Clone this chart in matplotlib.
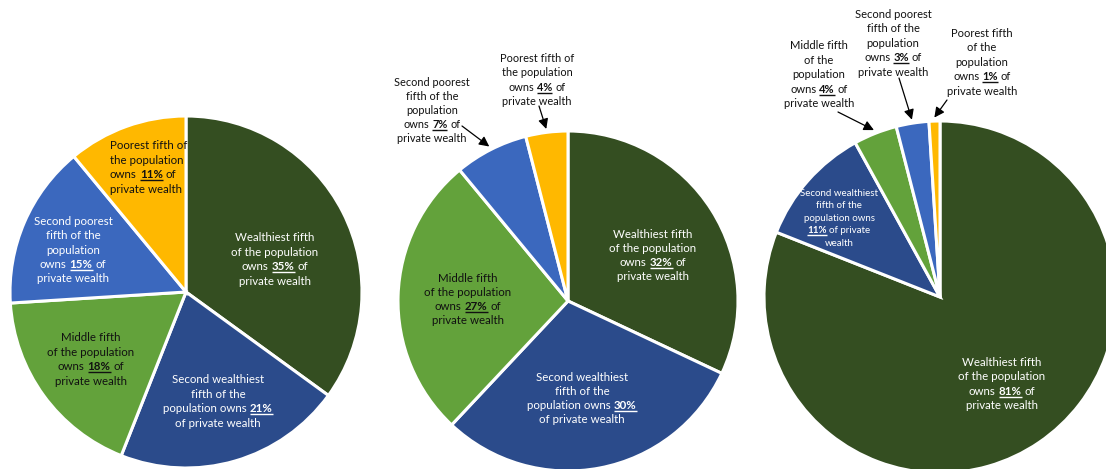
import matplotlib
matplotlib.use("Agg")
import matplotlib.pyplot as plt
import numpy as np

W, H = 1106, 469

groups = ["Wealthiest fifth", "Second wealthiest fifth", "Middle fifth",
          "Second poorest fifth", "Poorest fifth"]
colors = ["#344E21", "#2B4B8B", "#63A23B", "#3B68BE", "#FFB800"]

values_1 = [35, 21, 18, 15, 11]
values_2 = [32, 30, 27, 7, 4]
values_3 = [81, 11, 4, 3, 1]

# label texts: list of lines; "{P}" marks the underlined bold percentage
labels_1 = [
    ["Wealthiest fifth", "of the population", "owns {35%} of", "private wealth"],
    ["Second wealthiest", "fifth of the", "population owns {21%}", "of private wealth"],
    ["Middle fifth", "of the population", "owns {18%} of", "private wealth"],
    ["Second poorest", "fifth of the", "population", "owns {15%} of", "private wealth"],
    ["Poorest fifth of", "the population", "owns {11%} of", "private wealth"],
]
labels_2 = [
    ["Wealthiest fifth", "of the population", "owns {32%} of", "private wealth"],
    ["Second wealthiest", "fifth of the", "population owns {30%}", "of private wealth"],
    ["Middle fifth", "of the population", "owns {27%} of", "private wealth"],
    ["Second poorest", "fifth of the", "population", "owns {7%} of", "private wealth"],
    ["Poorest fifth of", "the population", "owns {4%} of", "private wealth"],
]
labels_3 = [
    ["Wealthiest fifth", "of the population", "owns {81%} of", "private wealth"],
    ["Second wealthiest", "fifth of the", "population owns", "{11%} of private", "wealth"],
    ["Middle fifth", "of the", "population", "owns {4%} of", "private wealth"],
    ["Second poorest", "fifth of the", "population", "owns {3%} of", "private wealth"],
    ["Poorest fifth", "of the", "population", "owns {1%} of", "private wealth"],
]

FONT = "Lato"
fig = plt.figure(figsize=(W / 100, H / 100), dpi=100)
ax = fig.add_axes([0, 0, 1, 1])
renderer = fig.canvas.get_renderer()


def Y(y):
    return H - y


def text_width(s, size, weight):
    t = ax.text(0, 0, s, fontsize=size, fontweight=weight, family=FONT)
    w = t.get_window_extent(renderer).width
    t.remove()
    return w


def draw_line(xc, y, line, color, size, align="center"):
    # split into parts
    parts = []
    if "{" in line:
        pre, rest = line.split("{", 1)
        mid, post = rest.split("}", 1)
        parts = [(pre, "normal", False), (mid, "bold", True), (post, "normal", False)]
    else:
        parts = [(line, "normal", False)]
    sp = text_width("a a", size, "normal") - text_width("aa", size, "normal")
    widths = []
    for s, wgt, _ in parts:
        st = s.strip()
        w = text_width(st, size, wgt) if st else 0
        if s.startswith(" "):
            w += sp
        if s.endswith(" ") and st:
            w += sp
        widths.append(w)
    total = sum(widths)
    x = xc - total / 2 if align == "center" else xc
    yb = Y(y)
    for (s, wgt, ul), w in zip(parts, widths):
        st = s.strip()
        off = sp if s.startswith(" ") else 0
        if st:
            ax.text(x + off, yb, st, fontsize=size, fontweight=wgt, family=FONT,
                    color=color, ha="left", va="baseline")
            if ul:
                wt = text_width(st, size, wgt)
                ax.plot([x + off, x + off + wt], [yb - 2, yb - 2], color=color,
                        lw=1.0, solid_capstyle="butt")
        x += w


def draw_label(xc, y0, lines, color, size=8.3, step=14.6, align="center"):
    for i, ln in enumerate(lines):
        draw_line(xc, y0 + i * step, ln, color, size, align)


def draw_pie(values, cx, cy, r):
    wedges, _ = ax.pie(values, colors=colors, startangle=90, counterclock=False,
                       center=(cx, Y(cy)), radius=r,
                       wedgeprops=dict(edgecolor="white", linewidth=2.2))
    return wedges


def edge_point(w, frac=1.0):
    ang = np.deg2rad((w.theta1 + w.theta2) / 2)
    cx, cy = w.center
    return cx + w.r * frac * np.cos(ang), cy + w.r * frac * np.sin(ang)


# pie 1
w1 = draw_pie(values_1, 186, 292, 176)
# pie 2
w2 = draw_pie(values_2, 568, 301, 170)
# pie 3
w3 = draw_pie(values_3, 940, 297, 176)

ax.set_xlim(0, W)
ax.set_ylim(0, H)
ax.set_aspect("auto")
ax.axis("off")

WHITE, BLACK = "white", "#111111"

# pie 1 labels (baselines)
draw_label(275, 241, labels_1[0], WHITE)
draw_label(218, 383, labels_1[1], WHITE)
draw_label(91, 341, labels_1[2], BLACK)
draw_label(73, 225, labels_1[3], WHITE, step=14.3)
draw_label(110, 149, labels_1[4], BLACK, align="left")

# pie 2 labels
draw_label(653, 238, labels_2[0], WHITE, step=14.1)
draw_label(582, 381, labels_2[1], WHITE, step=14.1)
draw_label(468, 282, labels_2[2], BLACK, step=14.1)
draw_label(432, 86, labels_2[3], BLACK, size=7.9, step=13.9)
draw_label(537, 62, labels_2[4], BLACK, size=7.9, step=14.3)

# pie 3 labels
draw_label(1002, 366, labels_3[0], WHITE, step=14.4)
draw_label(839, 196, labels_3[1], WHITE, size=7.0, step=12.4)
draw_label(819, 49, labels_3[2], BLACK, size=8.0, step=14.6)
draw_label(893, 18, labels_3[3], BLACK, size=8.0, step=14.4)
draw_label(982, 37, labels_3[4], BLACK, size=8.0, step=14.4)

arrow = dict(arrowstyle="-|>,head_length=0.6,head_width=0.3", color="black",
             lw=0.9, shrinkA=0, shrinkB=0)

# arrows to small wedges
for w, start, frac in [
    (w2[3], (462, 126), 1.02),
    (w2[4], (539, 106), 1.02),
    (w3[2], (838, 112), 1.02),
    (w3[3], (899, 78), 1.02),
    (w3[4], (947, 100), 1.02),
]:
    tip = edge_point(w, frac)
    ax.annotate("", xy=tip, xytext=(start[0], Y(start[1])), arrowprops=arrow)

fig.savefig("out.png", dpi=100)
